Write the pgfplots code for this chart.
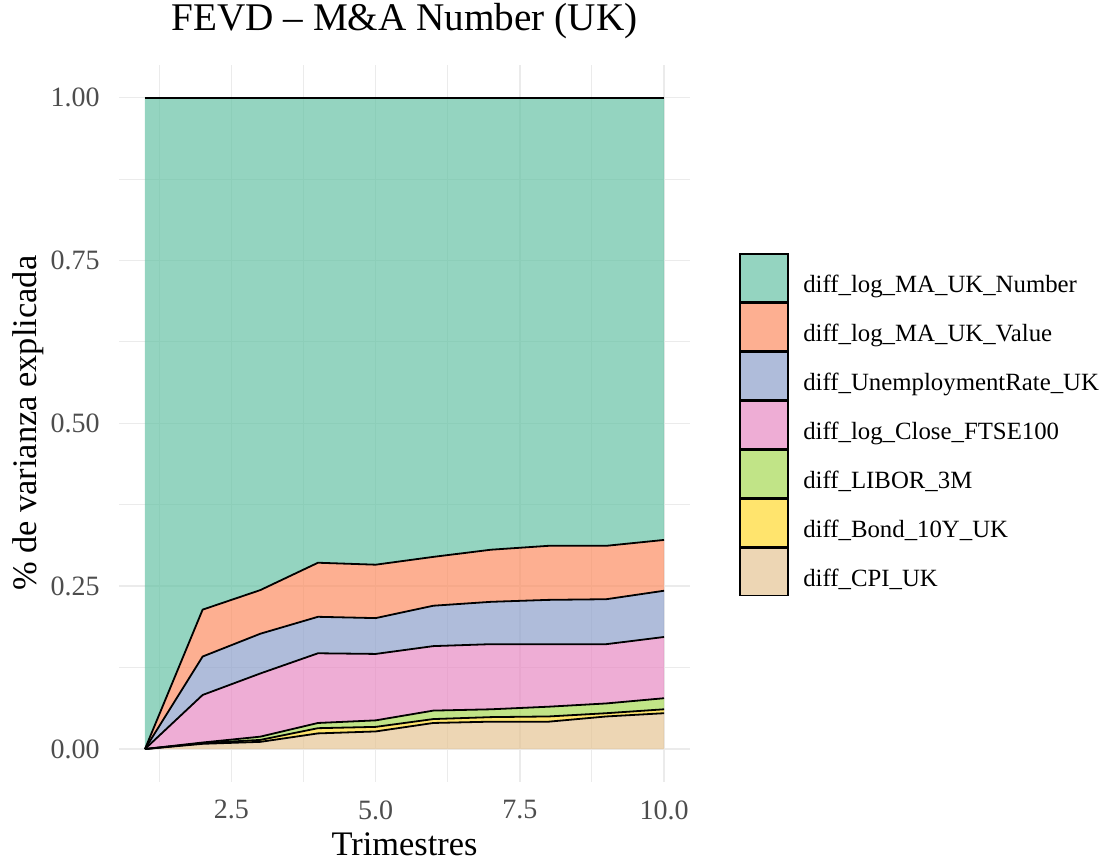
\documentclass[border=0pt]{standalone}
\usepackage{pgfplots}
\pgfplotsset{compat=1.18}
\usepackage{pgfplotstable}
\usepgfplotslibrary{fillbetween}
\usepackage{fontspec}
\setmainfont{Liberation Serif}
\definecolor{cNum}{HTML}{66C2A5}
\definecolor{cVal}{HTML}{FC8D62}
\definecolor{cUne}{HTML}{8DA0CB}
\definecolor{cFts}{HTML}{E78AC3}
\definecolor{cLib}{HTML}{A6D854}
\definecolor{cBon}{HTML}{FFD92F}
\definecolor{cCpi}{HTML}{E5C494}
\definecolor{gridc}{HTML}{EBEBEB}
\definecolor{tickc}{HTML}{4D4D4D}
\pgfplotstableread{
x  zero cpi   bond  libor ftse  unemp value num
1  0    0     0     0     0     0     0     1
2  0    0.008 0.009 0.010 0.083 0.142 0.214 1
3  0    0.011 0.014 0.019 0.116 0.177 0.244 1
4  0    0.024 0.032 0.040 0.147 0.203 0.286 1
5  0    0.027 0.034 0.044 0.146 0.201 0.283 1
6  0    0.040 0.046 0.059 0.158 0.220 0.295 1
7  0    0.042 0.049 0.061 0.161 0.226 0.306 1
8  0    0.042 0.050 0.065 0.161 0.229 0.312 1
9  0    0.050 0.055 0.070 0.161 0.230 0.312 1
10 0    0.055 0.061 0.078 0.172 0.243 0.321 1
}\fevd
\begin{document}
\begin{tikzpicture}
\begin{axis}[
  at={(59.5bp,39.2bp)}, anchor=south west,
  scale only axis, width=285.5bp, height=358.25bp,
  xmin=0.55, xmax=10.45, ymin=-0.05, ymax=1.05,
  xtick={2.5,5,7.5,10}, xticklabels={2.5,5.0,7.5,10.0},
  ytick={0,0.25,0.5,0.75,1}, yticklabels={0.00,0.25,0.50,0.75,1.00},
  minor xtick={1.25,3.75,6.25,8.75},
  minor ytick={0.125,0.375,0.625,0.875},
  grid=both,
  major grid style={draw=gridc, line width=0.8bp},
  minor grid style={draw=gridc, line width=0.45bp},
  axis line style={draw=none},
  major tick length=0pt, minor tick length=0pt,
  tick style={draw=none},
  tick label style={font=\fontsize{14bp}{16bp}\selectfont, text=tickc},
  xticklabel style={anchor=north, inner sep=0pt, yshift=-9.2bp},
  yticklabel style={anchor=east, inner sep=0pt, xshift=-9.5bp},
  xlabel={Trimestres},
  ylabel={\% de varianza explicada},
  label style={font=\fontsize{17.2bp}{20bp}\selectfont},
  xlabel style={at={(axis description cs:0.5,0)}, anchor=base, yshift=-36.7bp},
  ylabel style={at={(axis description cs:-0.1594,0.5)}, anchor=center, rotate=0},
  title={FEVD -- M\&A Number (UK)},
  title style={font=\fontsize{19.6bp}{23bp}\selectfont, at={(axis description cs:0.5,1)}, anchor=base, yshift=11.2bp},
  no marks,
  legend image code/.code={\draw[#1, draw=black, line width=0.8bp] (0bp,-8.35bp) rectangle (24bp,15.35bp);},
  legend style={at={(axis description cs:1.0858,0.7373)}, anchor=north west,
    draw=none, fill=none, inner sep=0pt, outer sep=0pt, row sep=0pt,
    font=\fontsize{12.4bp}{14bp}\selectfont,
    nodes={inner sep=0pt},
    /tikz/every odd column/.append style={column sep=7.35bp}},
  legend cell align=left,
]
\addplot[draw=none, name path=p0, forget plot] table[x=x,y=zero]{\fevd};
\addplot[draw=none, name path=p1, forget plot] table[x=x,y=cpi]{\fevd};
\addplot[draw=none, name path=p2, forget plot] table[x=x,y=bond]{\fevd};
\addplot[draw=none, name path=p3, forget plot] table[x=x,y=libor]{\fevd};
\addplot[draw=none, name path=p4, forget plot] table[x=x,y=ftse]{\fevd};
\addplot[draw=none, name path=p5, forget plot] table[x=x,y=unemp]{\fevd};
\addplot[draw=none, name path=p6, forget plot] table[x=x,y=value]{\fevd};
\addplot[draw=none, name path=p7, forget plot] table[x=x,y=num]{\fevd};
\addplot[fill=cCpi, fill opacity=0.7, draw=none, forget plot] fill between[of=p0 and p1];
\addplot[fill=cBon, fill opacity=0.7, draw=none, forget plot] fill between[of=p1 and p2];
\addplot[fill=cLib, fill opacity=0.7, draw=none, forget plot] fill between[of=p2 and p3];
\addplot[fill=cFts, fill opacity=0.7, draw=none, forget plot] fill between[of=p3 and p4];
\addplot[fill=cUne, fill opacity=0.7, draw=none, forget plot] fill between[of=p4 and p5];
\addplot[fill=cVal, fill opacity=0.7, draw=none, forget plot] fill between[of=p5 and p6];
\addplot[fill=cNum, fill opacity=0.7, draw=none, forget plot] fill between[of=p6 and p7];
\addplot[black, line width=0.9bp, forget plot] table[x=x,y=cpi]{\fevd};
\addplot[black, line width=0.9bp, forget plot] table[x=x,y=bond]{\fevd};
\addplot[black, line width=0.9bp, forget plot] table[x=x,y=libor]{\fevd};
\addplot[black, line width=0.9bp, forget plot] table[x=x,y=ftse]{\fevd};
\addplot[black, line width=0.9bp, forget plot] table[x=x,y=unemp]{\fevd};
\addplot[black, line width=0.9bp, forget plot] table[x=x,y=value]{\fevd};
\addplot[black, line width=0.9bp, forget plot] table[x=x,y=num]{\fevd};
\addlegendimage{fill=cNum, fill opacity=0.7}
\addlegendentry{diff\_log\_MA\_UK\_Number}
\addlegendimage{fill=cVal, fill opacity=0.7}
\addlegendentry{diff\_log\_MA\_UK\_Value}
\addlegendimage{fill=cUne, fill opacity=0.7}
\addlegendentry{diff\_UnemploymentRate\_UK}
\addlegendimage{fill=cFts, fill opacity=0.7}
\addlegendentry{diff\_log\_Close\_FTSE100}
\addlegendimage{fill=cLib, fill opacity=0.7}
\addlegendentry{diff\_LIBOR\_3M}
\addlegendimage{fill=cBon, fill opacity=0.7}
\addlegendentry{diff\_Bond\_10Y\_UK}
\addlegendimage{fill=cCpi, fill opacity=0.7}
\addlegendentry{diff\_CPI\_UK}
\end{axis}
\pgfresetboundingbox
\path[use as bounding box] (0,0) rectangle (552.5bp,430bp);
\end{tikzpicture}
\end{document}
